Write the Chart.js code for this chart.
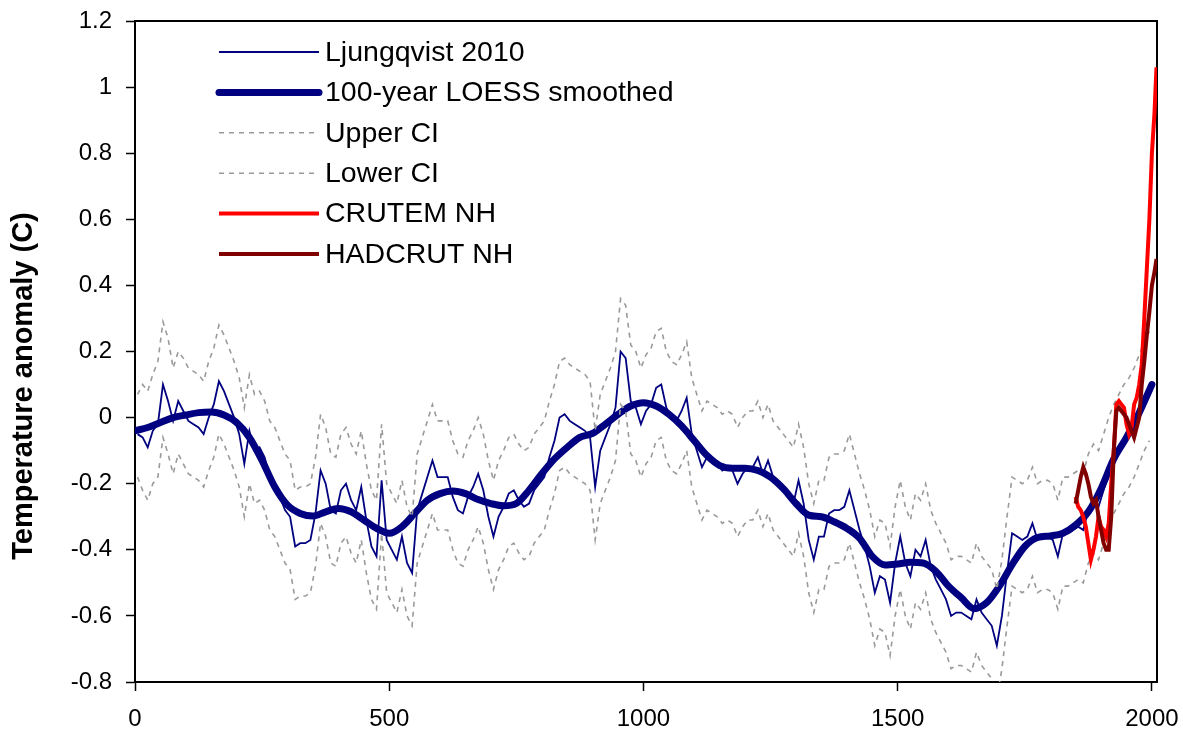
<!DOCTYPE html>
<html><head><meta charset="utf-8">
<script src="https://cdn.jsdelivr.net/npm/chart.js@4.4.0/dist/chart.umd.min.js"></script>
<style>html,body{margin:0;padding:0;background:#fff;}#wrap{width:1183px;height:739px;}</style>
</head><body><div id="wrap"><canvas id="c" width="1183" height="739"></canvas></div>
<script>
// ---------- DATA ----------
const ljYears = [5,15,25,35,45,55,65,75,85,95,105,115,125,135,145,155,165,175,185,195,
205,215,225,235,245,255,265,275,285,295,305,315,325,335,345,355,365,375,385,395,
405,415,425,435,445,455,465,475,485,495,505,515,525,535,545,555,565,575,585,595,
605,615,625,635,645,655,665,675,685,695,705,715,725,735,745,755,765,775,785,795,
805,815,825,835,845,855,865,875,885,895,905,915,925,935,945,955,965,975,985,995,
1005,1015,1025,1035,1045,1055,1065,1075,1085,1095,1105,1115,1125,1135,1145,1155,1165,1175,1185,1195,
1205,1215,1225,1235,1245,1255,1265,1275,1285,1295,1305,1315,1325,1335,1345,1355,1365,1375,1385,1395,
1405,1415,1425,1435,1445,1455,1465,1475,1485,1495,1505,1515,1525,1535,1545,1555,1565,1575,1585,1595,
1605,1615,1625,1635,1645,1655,1665,1675,1685,1695,1705,1715,1725,1735,1745,1755,1765,1775,1785,1795,
1805,1815,1825,1835,1845,1855,1865,1875,1885,1895,1905,1915,1925,1935,1945,1955,1965,1975,1985,1995];

const ljRaw = [-0.05,-0.06,-0.09,-0.04,-0.02,0.10,0.05,-0.01,0.05,0.02,
-0.01,-0.02,-0.03,-0.05,0.00,0.04,0.11,0.08,0.04,0.00,
-0.05,-0.14,-0.04,-0.10,-0.09,-0.12,-0.18,-0.20,-0.24,-0.28,
-0.30,-0.39,-0.38,-0.38,-0.37,-0.29,-0.16,-0.20,-0.28,-0.29,
-0.22,-0.20,-0.25,-0.28,-0.21,-0.31,-0.39,-0.42,-0.19,-0.37,
-0.40,-0.43,-0.36,-0.44,-0.47,-0.28,-0.23,-0.18,-0.13,-0.18,
-0.18,-0.18,-0.24,-0.28,-0.29,-0.24,-0.21,-0.17,-0.22,-0.30,
-0.36,-0.30,-0.27,-0.23,-0.22,-0.25,-0.27,-0.26,-0.22,-0.20,
-0.18,-0.12,-0.07,0.00,0.01,-0.01,-0.02,-0.03,-0.04,-0.06,
-0.21,-0.10,-0.06,-0.02,0.03,0.20,0.18,0.05,0.03,-0.02,
0.02,0.04,0.09,0.10,0.03,0.00,-0.01,0.02,0.06,-0.05,
-0.10,-0.15,-0.12,-0.13,-0.14,-0.16,-0.15,-0.16,-0.20,-0.17,
-0.15,-0.15,-0.12,-0.17,-0.13,-0.18,-0.20,-0.22,-0.24,-0.26,
-0.19,-0.26,-0.37,-0.43,-0.36,-0.36,-0.29,-0.28,-0.28,-0.27,
-0.22,-0.28,-0.34,-0.39,-0.45,-0.53,-0.48,-0.49,-0.56,-0.44,
-0.36,-0.44,-0.48,-0.40,-0.42,-0.37,-0.45,-0.49,-0.52,-0.55,
-0.60,-0.59,-0.59,-0.60,-0.61,-0.55,-0.59,-0.61,-0.63,-0.69,
-0.60,-0.47,-0.35,-0.36,-0.37,-0.36,-0.32,-0.37,-0.36,-0.36,
-0.37,-0.42,-0.35,-0.35,-0.34,-0.33,-0.34,-0.28,-0.25,-0.27,
-0.22,-0.17,-0.13,-0.10,-0.07,-0.05,-0.02,0.02,0.06,0.09];

const ljUpper = [0.07,0.10,0.08,0.13,0.17,0.29,0.24,0.15,0.20,0.18,
0.15,0.14,0.13,0.11,0.17,0.21,0.28,0.25,0.21,0.17,
0.12,0.03,0.13,0.07,0.08,0.05,-0.01,-0.03,-0.07,-0.11,
-0.13,-0.22,-0.21,-0.21,-0.20,-0.12,0.01,-0.03,-0.11,-0.12,
-0.05,-0.03,-0.08,-0.11,-0.04,-0.14,-0.22,-0.25,-0.02,-0.20,
-0.23,-0.26,-0.19,-0.27,-0.30,-0.11,-0.06,-0.01,0.04,-0.01,
-0.01,-0.01,-0.07,-0.11,-0.12,-0.07,-0.04,0.00,-0.05,-0.13,
-0.19,-0.13,-0.10,-0.06,-0.05,-0.08,-0.10,-0.09,-0.05,-0.03,
-0.01,0.05,0.10,0.17,0.18,0.16,0.15,0.14,0.13,0.11,
-0.04,0.07,0.11,0.15,0.20,0.36,0.34,0.22,0.20,0.15,
0.19,0.21,0.26,0.27,0.20,0.17,0.16,0.19,0.23,0.12,
0.07,0.02,0.05,0.04,0.03,0.01,0.02,0.01,-0.03,0.00,
0.02,0.02,0.05,0.00,0.04,-0.01,-0.03,-0.05,-0.07,-0.09,
-0.02,-0.09,-0.20,-0.26,-0.19,-0.19,-0.12,-0.11,-0.11,-0.10,
-0.05,-0.11,-0.17,-0.22,-0.28,-0.36,-0.31,-0.32,-0.39,-0.27,
-0.19,-0.27,-0.31,-0.23,-0.25,-0.20,-0.28,-0.32,-0.35,-0.38,
-0.43,-0.42,-0.42,-0.43,-0.44,-0.38,-0.42,-0.44,-0.46,-0.52,
-0.43,-0.30,-0.18,-0.19,-0.20,-0.19,-0.15,-0.20,-0.19,-0.19,
-0.20,-0.25,-0.18,-0.18,-0.17,-0.16,-0.17,-0.11,-0.08,-0.10,
-0.05,0.00,0.04,0.07,0.10,0.12,0.15,0.19,0.23,0.26];

const ljLower = [-0.18,-0.22,-0.25,-0.20,-0.18,-0.06,-0.11,-0.17,-0.11,-0.14,
-0.17,-0.18,-0.19,-0.21,-0.16,-0.12,-0.05,-0.08,-0.12,-0.16,
-0.21,-0.30,-0.20,-0.26,-0.25,-0.28,-0.34,-0.36,-0.40,-0.44,
-0.46,-0.55,-0.54,-0.54,-0.53,-0.45,-0.32,-0.36,-0.44,-0.45,
-0.38,-0.36,-0.41,-0.44,-0.37,-0.47,-0.55,-0.58,-0.35,-0.53,
-0.56,-0.59,-0.52,-0.60,-0.63,-0.44,-0.39,-0.34,-0.29,-0.34,
-0.34,-0.34,-0.40,-0.44,-0.45,-0.40,-0.37,-0.33,-0.38,-0.46,
-0.52,-0.46,-0.43,-0.39,-0.38,-0.41,-0.43,-0.42,-0.38,-0.36,
-0.34,-0.28,-0.23,-0.16,-0.15,-0.17,-0.18,-0.19,-0.20,-0.22,
-0.37,-0.26,-0.22,-0.18,-0.13,0.04,0.02,-0.11,-0.13,-0.18,
-0.14,-0.12,-0.07,-0.06,-0.13,-0.16,-0.17,-0.14,-0.10,-0.21,
-0.26,-0.31,-0.28,-0.29,-0.30,-0.32,-0.31,-0.32,-0.36,-0.33,
-0.31,-0.31,-0.28,-0.33,-0.29,-0.34,-0.36,-0.38,-0.40,-0.42,
-0.35,-0.42,-0.53,-0.59,-0.52,-0.52,-0.45,-0.44,-0.44,-0.43,
-0.38,-0.44,-0.50,-0.55,-0.61,-0.69,-0.64,-0.65,-0.72,-0.60,
-0.52,-0.60,-0.64,-0.56,-0.58,-0.53,-0.61,-0.65,-0.68,-0.71,
-0.76,-0.75,-0.75,-0.76,-0.77,-0.71,-0.75,-0.77,-0.79,-0.85,
-0.76,-0.63,-0.51,-0.52,-0.53,-0.52,-0.48,-0.53,-0.52,-0.52,
-0.53,-0.58,-0.51,-0.51,-0.50,-0.49,-0.50,-0.44,-0.41,-0.43,
-0.38,-0.33,-0.29,-0.26,-0.23,-0.21,-0.18,-0.14,-0.10,-0.07];

const loessYears = [0,25,50,75,100,125,150,175,200,225,250,275,300,325,350,375,400,425,450,475,
500,525,550,575,600,625,650,675,700,725,750,775,800,825,850,875,900,925,950,975,
1000,1025,1050,1075,1100,1125,1150,1175,1200,1225,1250,1275,1300,1325,1350,1375,1400,1425,1450,1475,
1500,1525,1550,1575,1600,1625,1650,1675,1700,1725,1750,1775,1800,1825,1850,1875,1900,1925,1950,1975,2000];
const loess = [-0.04,-0.03,-0.015,0.0,0.008,0.015,0.017,0.008,-0.015,-0.06,-0.13,-0.21,-0.265,-0.29,-0.298,-0.285,-0.275,-0.285,-0.31,-0.335,
-0.35,-0.33,-0.29,-0.25,-0.23,-0.222,-0.23,-0.248,-0.26,-0.267,-0.26,-0.22,-0.17,-0.125,-0.09,-0.06,-0.048,-0.02,0.01,0.035,
0.045,0.035,0.01,-0.025,-0.07,-0.115,-0.145,-0.153,-0.153,-0.16,-0.18,-0.215,-0.26,-0.295,-0.30,-0.315,-0.335,-0.365,-0.42,-0.446,
-0.443,-0.438,-0.44,-0.465,-0.51,-0.545,-0.578,-0.56,-0.51,-0.445,-0.39,-0.363,-0.358,-0.35,-0.325,-0.285,-0.215,-0.125,-0.06,0.015,0.10];

const instYears = [1850,1855,1860,1865,1870,1875,1880,1885,1890,1895,1900,1905,1910,1915,1920,1925,1930,1935,1940,1945,
1950,1955,1960,1965,1970,1975,1980,1985,1990,1995,2000,2005,2009];
const crutemNH = [-0.24,-0.27,-0.28,-0.30,-0.33,-0.38,-0.43,-0.40,-0.36,-0.30,-0.33,-0.34,-0.36,-0.32,-0.20,-0.10,0.04,0.05,0.04,0.03,
-0.02,-0.05,-0.03,0.04,0.06,0.10,0.16,0.30,0.45,0.60,0.80,0.92,1.06];
const hadcrutNH = [-0.26,-0.22,-0.18,-0.15,-0.17,-0.20,-0.24,-0.26,-0.25,-0.30,-0.34,-0.38,-0.40,-0.40,-0.30,-0.10,0.02,0.03,0.02,0.01,
0.00,-0.02,-0.04,-0.06,-0.03,0.00,0.10,0.17,0.25,0.32,0.40,0.44,0.48];

const xTickValues = [0,500,1000,1500,2000];
const yTickValues = [-0.8,-0.6,-0.4,-0.2,0,0.2,0.4,0.6,0.8,1,1.2];
const yTickLabels = ['-0.8','-0.6','-0.4','-0.2','0','0.2','0.4','0.6','0.8','1','1.2'];
const seriesLabels = ['Ljungqvist 2010','100-year LOESS smoothed','Upper CI','Lower CI','CRUTEM NH','HADCRUT NH'];
const yTitle = 'Temperature anomaly (C)';

// ---------- CHART ----------
const pts = (xs, ys) => xs.map((x, i) => ({x: x, y: ys[i]}));
const FONT = "'Liberation Sans', Arial, sans-serif";
Chart.defaults.font.family = FONT;
Chart.defaults.color = '#000';

const frame = {
  id: 'frame',
  beforeDatasetsDraw(chart) {
    const a = chart.chartArea, ctx = chart.ctx;
    ctx.save();
    ctx.strokeStyle = '#000';
    ctx.lineWidth = 2;
    ctx.strokeRect(a.left, a.top, a.right - a.left, a.bottom - a.top);
    ctx.restore();
  }
};

const axisTitle = {
  id: 'axisTitle',
  afterDraw(chart) {
    const ctx = chart.ctx;
    ctx.save();
    ctx.translate(24, 386);
    ctx.rotate(-Math.PI / 2);
    ctx.font = "bold 29px " + FONT;
    ctx.fillStyle = '#000';
    ctx.textAlign = 'center';
    ctx.textBaseline = 'middle';
    ctx.fillText(yTitle, 0, 0);
    ctx.restore();
  }
};

const insideLegend = {
  id: 'insideLegend',
  afterDraw(chart) {
    const ctx = chart.ctx;
    const x0 = 219, x1 = 319, tx = 325, y0 = 52, dy = 40.4;
    ctx.save();
    chart.data.datasets.forEach((ds, i) => {
      const y = y0 + i * dy;
      ctx.beginPath();
      ctx.strokeStyle = ds.borderColor;
      ctx.lineWidth = ds.borderWidth;
      ctx.setLineDash(ds.borderDash || []);
      ctx.lineCap = ds.borderWidth > 5 ? 'round' : 'butt';
      ctx.moveTo(x0, y); ctx.lineTo(x1, y);
      ctx.stroke();
      ctx.setLineDash([]);
      ctx.fillStyle = '#000';
      ctx.font = "28.5px " + FONT;
      ctx.textBaseline = 'middle';
      ctx.textAlign = 'left';
      ctx.fillText(ds.label, tx, y + 1);
    });
    ctx.restore();
  }
};

new Chart(document.getElementById('c'), {
  type: 'line',
  data: {
    datasets: [
      {label: seriesLabels[0], data: pts(ljYears, ljRaw), borderColor: '#000080', borderWidth: 1.8, pointRadius: 0, tension: 0, order: 6},
      {label: seriesLabels[1], data: pts(loessYears, loess), borderColor: '#000080', borderWidth: 7, pointRadius: 0, cubicInterpolationMode: 'monotone', borderCapStyle: 'round', order: 5},
      {label: seriesLabels[2], data: pts(ljYears, ljUpper), borderColor: '#9a9a9a', borderWidth: 1.6, borderDash: [5, 5], pointRadius: 0, order: 4},
      {label: seriesLabels[3], data: pts(ljYears, ljLower), borderColor: '#9a9a9a', borderWidth: 1.6, borderDash: [5, 5], pointRadius: 0, order: 3},
      {label: seriesLabels[4], data: pts(instYears, crutemNH), borderColor: '#ff0000', borderWidth: 4, pointRadius: 0, order: 2},
      {label: seriesLabels[5], data: pts(instYears, hadcrutNH), borderColor: '#800000', borderWidth: 4, pointRadius: 0, order: 1}
    ]
  },
  options: {
    responsive: false,
    animation: false,
    devicePixelRatio: 1,
    layout: {padding: {left: 0, top: 21, right: 26, bottom: 0}},
    plugins: {legend: {display: false}, tooltip: {enabled: false}},
    scales: {
      x: {
        type: 'linear', min: 0, max: 2010,
        afterBuildTicks: s => { s.ticks = xTickValues.map(v => ({value: v})); },
        afterFit: s => { s.height = 57; s.paddingLeft = 0; s.paddingRight = 0; },
        ticks: {callback: v => String(v), font: {size: 24}, color: '#000', maxRotation: 0, padding: 14},
        grid: {drawOnChartArea: false, drawTicks: true, tickLength: 9, color: '#000', tickWidth: 1.5},
        border: {display: true, color: '#000', width: 2}
      },
      y: {
        type: 'linear', min: -0.8, max: 1.2,
        afterBuildTicks: s => { s.ticks = yTickValues.map(v => ({value: v})); },
        afterFit: s => { s.width = 135; s.paddingTop = 0; s.paddingBottom = 0; },
        ticks: {callback: (v) => yTickLabels[yTickValues.findIndex(t => Math.abs(t - v) < 1e-9)], font: {size: 24}, color: '#000', padding: 14},
        grid: {drawOnChartArea: false, drawTicks: true, tickLength: 9, color: '#000', tickWidth: 1.5},
        border: {display: true, color: '#000', width: 2},
        title: {display: false}
      }
    }
  },
  plugins: [frame, axisTitle, insideLegend]
});
</script></body></html>
